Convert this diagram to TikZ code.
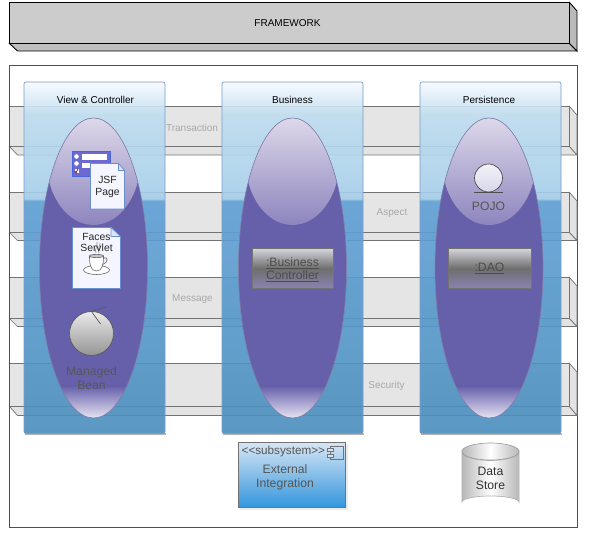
\documentclass[tikz,border=0pt]{standalone}
\usepackage{fontspec}
\setmainfont{Liberation Sans}
\definecolor{colT}{HTML}{F6FAFE}
\definecolor{colU}{HTML}{BFDDF0}
\definecolor{colA}{HTML}{A4CDE9}
\definecolor{colB}{HTML}{5FA0D6}
\definecolor{colC}{HTML}{4A8EBD}
\definecolor{bxT}{HTML}{D4D4DC}
\definecolor{bxM}{HTML}{6E6E6E}
\definecolor{bxB}{HTML}{8A84B0}
\definecolor{cyE}{HTML}{B8B8B8}
\definecolor{frameblue}{HTML}{2A4DBB}
\definecolor{ellDark}{HTML}{6660AB}
\definecolor{lobeT}{HTML}{DDD8EA}
\definecolor{lobeB}{HTML}{8D85BE}
\definecolor{glowB}{HTML}{E6E3F2}
\definecolor{ellEdge}{HTML}{7F7FA8}
\definecolor{docline}{HTML}{6A8FD0}
\definecolor{colEdge}{HTML}{7C9BC8}
\definecolor{txtgrey}{HTML}{555555}
\definecolor{lblgrey}{HTML}{A8A8A8}
\definecolor{subT}{HTML}{D6E5F3}
\definecolor{subB}{HTML}{3396DE}
\pgfdeclareverticalshading{colshade}{100bp}{color(0bp)=(colC);color(25bp)=(colC);color(58.1bp)=(colB);color(58.4bp)=(colA);color(70.3bp)=(colU);color(75bp)=(colT);color(100bp)=(colT)}
\pgfdeclareverticalshading{boxshade}{100bp}{color(0bp)=(bxB);color(25bp)=(bxB);color(50bp)=(bxM);color(75bp)=(bxT);color(100bp)=(bxT)}
\pgfdeclarehorizontalshading{cylshade}{100bp}{color(0bp)=(cyE);color(25bp)=(cyE);color(50bp)=(white);color(75bp)=(cyE);color(100bp)=(cyE)}
\tikzset{
  x=1pt,y=-1pt,
  fw/.style={draw=black,line width=.9pt,fill=#1},
  bandface/.style={draw=black!55,line width=.7pt,fill=#1},
  collabel/.style={font=\fontsize{10}{11}\selectfont,text=black},
  bandlabel/.style={font=\fontsize{10}{11}\selectfont,text=lblgrey},
  iconlabel/.style={font=\fontsize{12.2}{14}\selectfont,text=txtgrey,align=center},
  doclabel/.style={font=\fontsize{10.4}{11}\selectfont,text=black!85,align=center},
  colbox/.style={rounded corners=2pt,shading=colshade,opacity=.9},
  doc/.style={draw=docline,line width=.7pt,fill=#1},
  cupl/.style={draw=black!60,line width=.6pt},
}
\newcommand{\bandrow}[3]{%
  \path[bandface=black!10] (9.5,#1) -- (569.5,#1) -- (569.5,#2) -- (9.5,#2) -- cycle;
  \path[bandface=black!11] (9.5,#2) -- (569.5,#2) -- (577,#3) -- (17.5,#3) -- cycle;
  \path[bandface=black!11] (569.5,#1) -- (577,{#1+8.5}) -- (577,#3) -- (569.5,#2) -- cycle;
}
\newcommand{\colbar}[1]{%
  \fill[black!30] ({#1+1},433) rectangle ({#1+141.5},434.8);
  \path[colbox] (#1,82) rectangle ({#1+141},433.5);
  \draw[colEdge,line width=.7pt,rounded corners=2pt] (#1,82) rectangle ({#1+141},433.5);
}
\newcommand{\capsl}[1]{%
  \fill[ellDark] (#1,268) ellipse [x radius=54,y radius=150];
  \begin{scope}
    \clip (#1,268) ellipse [x radius=54,y radius=150];
    \begin{scope}
      \clip (#1,160) ellipse [x radius=47,y radius=65];
      \shade[top color=lobeT,bottom color=lobeB] ({#1-60},118) rectangle ({#1+60},225);
    \end{scope}
    \shade[top color=ellDark,bottom color=glowB] ({#1-60},386) rectangle ({#1+60},418);
  \end{scope}
  \draw[ellEdge,line width=.6pt] (#1,268) ellipse [x radius=54,y radius=150];
}
\begin{document}
\begin{tikzpicture}
\useasboundingbox (0,0) rectangle (590,534);
\fill[white] (0,0) rectangle (590,534);
% framework
\path[fw=black!25] (9.5,43.5) -- (569.5,43.5) -- (577,51) -- (17.5,51) -- cycle;
\path[fw=black!27] (569.5,2.5) -- (577,11) -- (577,51) -- (569.5,43.5) -- cycle;
\path[fw=black!20] (9.5,2.5) rectangle (569.5,43.5);
\node[font=\fontsize{10}{11}\selectfont] (framework) at (287.5,23.5) {FRAMEWORK};
% container
\draw[frameblue,line width=.8pt] (9.5,65.5) rectangle (577.5,527.5);
% bands
\bandrow{106.5}{146.5}{155}
\bandrow{192.5}{232.5}{240.5}
\bandrow{277.5}{318.5}{326.5}
\bandrow{363.5}{406.5}{415.5}
\draw[frameblue,line width=.8pt] (9.5,65.5) -- (9.5,527.5);
\node[bandlabel] (tx) at (192,128) {Transaction};
\node[bandlabel] (asp) at (392,213) {Aspect};
\node[bandlabel] (msg) at (192.5,299) {Message};
\node[bandlabel] (sec) at (386.5,386) {Security};
% columns
\colbar{24}
\colbar{222}
\colbar{420}
\node[collabel] (vc) at (95.5,100) {View \& Controller};
\node[collabel] (bus) at (292.5,100) {Business};
\node[collabel] (per) at (489,100) {Persistence};
% capsules
\capsl{93.5}
\capsl{292.5}
\capsl{489}
% form icon
\draw[fill=ellDark!70!blue!80!white,draw=docline!70!blue,line width=.7pt] (72.5,151.5) rectangle (110,176.5);
\fill[white] (81.5,154) rectangle (107,160);
\fill[white] (81.5,163) rectangle (100,168);
\fill[white] (76.5,156.5) circle (2.3);
\fill[white] (76.5,163.5) circle (2.3);
\fill[white] (74.5,169) rectangle (78.5,173.5);
\draw[purple!70!black,line width=.7pt] (74.8,171) -- (76,173) -- (78,168.8);
% JSF page
\path[doc=blue!4!white] (90.5,163.5) -- (118.5,163.5) -- (124.5,170.5) -- (124.5,209) -- (90.5,209) -- cycle;
\draw[docline,line width=.6pt,fill=blue!12!white] (118.5,163.5) -- (118.5,170.5) -- (124.5,170.5) -- cycle;
\node[doclabel] (jsf) at (107.5,187) {JSF\\[.4pt]Page};
% Faces servlet
\path[doc=blue!4!white] (72.5,227.5) -- (111,227.5) -- (120.5,236.5) -- (120.5,288.5) -- (72.5,288.5) -- cycle;
\draw[docline,line width=.6pt,fill=blue!12!white] (111,227.5) -- (111,236.5) -- (120.5,236.5) -- cycle;
% cup
\draw[cupl,fill=white] (96.5,270) ellipse [x radius=13,y radius=4.5];
\draw[cupl,fill=white] (89.5,256) .. controls (89.5,264) and (90.5,271) .. (96.5,271) .. controls (102.5,271) and (103.5,264) .. (103.5,256) -- cycle;
\draw[cupl] (96.5,256) ellipse [x radius=7,y radius=1.6];
\draw[cupl] (103.5,258) .. controls (109,256) and (108,263) .. (102.5,264.5);
\draw[cupl,black!45] (96,253) .. controls (94,249) and (98,247) .. (97,242);
\draw[cupl,black!45] (99,253) .. controls (97,249) and (100,247) .. (100,243);
\node[doclabel] (faces) at (96.5,242.5) {Faces\\[-.3pt]Servlet};
% managed bean
\shade[top color=black!8,bottom color=black!42] (91.5,333.5) circle (22);
\draw[black!65,line width=.7pt] (91.5,333.5) circle (22);
\draw[black!65,line width=.7pt] (91.5,311.5) -- (100.5,324);
\draw[black!65,line width=.7pt] (91.5,311.5) -- (106,307);
\node[iconlabel,text=black!66] (mb) at (91.5,378) {Managed\\Bean};
% pojo
\shade[top color=ellDark!8!white,bottom color=ellDark!25!white] (488.5,178) circle (14);
\draw[black!70,line width=.7pt] (488.5,178) circle (14);
\draw[black!70,line width=.8pt] (474,192.3) -- (503,192.3);
\node[iconlabel] (pojo) at (488.5,206.5) {POJO};
% boxes
\path[shading=boxshade,draw=black!55,line width=.8pt] (252.5,248.5) rectangle (333,288.5);
\node[iconlabel,text=black!70] (bc) at (292.5,269.5) {\underline{:Business}\\[-1pt]\underline{Controller}};
\path[shading=boxshade,draw=black!55,line width=.8pt] (448.5,248.5) rectangle (531,288.5);
\node[iconlabel,text=black!70] (dao) at (489.5,268) {\underline{:DAO}};
% subsystem
\fill[black!8] (240,445) rectangle (347.5,510);
\path[top color=subT,bottom color=subB,draw=black!55,line width=.8pt] (238.5,442.5) rectangle (345.5,507.5);
\node[iconlabel,anchor=west,inner sep=0pt,font=\fontsize{11.7}{12}\selectfont] (sub) at (241.5,451.5) {<{}<subsystem>{}>};
\draw[black!55,line width=.7pt] (330,446) rectangle (343,459);
\draw[black!55,line width=.7pt,fill=subT] (327.5,448.5) rectangle (333,451.5);
\draw[black!55,line width=.7pt,fill=subT] (327.5,454) rectangle (333,457);
\node[iconlabel] (ext) at (285,477.5) {External\\Integration};
% data store
\path[shading=cylshade,draw=black!30,line width=.7pt] (462,452) -- (462,502) arc [start angle=180,end angle=360,x radius=28.5,y radius=6] -- (519,452) arc [start angle=0,end angle=180,x radius=28.5,y radius=8.5] -- cycle;
\path[shading=cylshade,draw=black!40,line width=.6pt] (490.5,451.5) ellipse [x radius=28.5,y radius=8.5];
\node[iconlabel,text=black!80] (ds) at (490.5,478.5) {Data\\Store};
\end{tikzpicture}
\end{document}
